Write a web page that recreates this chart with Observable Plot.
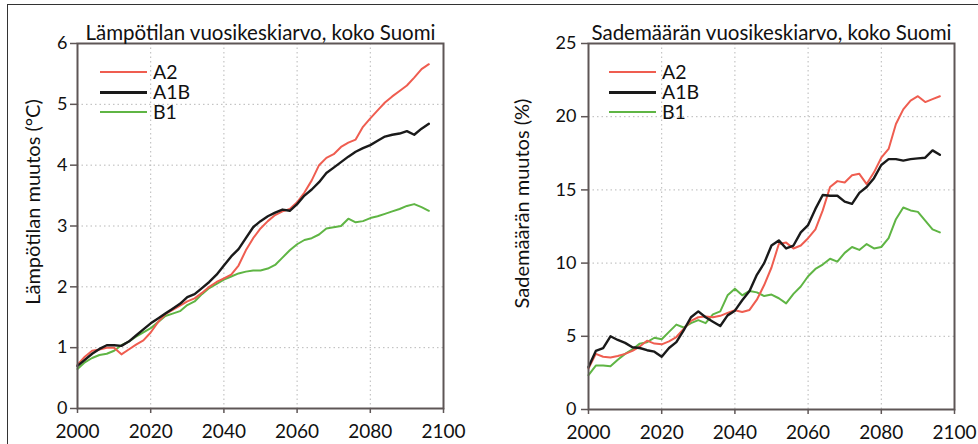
<!DOCTYPE html>
<html>
<head>
<meta charset="utf-8">
<script src="https://cdn.jsdelivr.net/npm/d3@7"></script>
<script src="https://cdn.jsdelivr.net/npm/@observablehq/plot@0.6"></script>
<style>
  html, body { margin: 0; padding: 0; background: #fff; }
  #wrap { position: relative; width: 978px; height: 444px; overflow: hidden; font-family: Lato, "Open Sans", sans-serif; }
  #border { position: absolute; left: 7px; top: 4px; width: 980px; height: 450px; border-left: 1.5px solid #333; border-top: 1.5px solid #333; }
  .panel { position: absolute; top: 0; }
  .legend { position: absolute; width: 110px; height: 62px; }
  .legend .sw { position: absolute; left: 0; width: 47px; height: 2px; }
  .legend .lb { position: absolute; left: 53px; top: 0; font-size: 19.5px; line-height: 20px; white-space: pre; color: #111; }
</style>
</head>
<body>
<div id="wrap"><div id="border"></div></div>
<script>
const years = [2000,2002,2004,2006,2008,2010,2012,2014,2016,2018,2020,2022,2024,2026,2028,2030,2032,2034,2036,2038,2040,2042,2044,2046,2048,2050,2052,2054,2056,2058,2060,2062,2064,2066,2068,2070,2072,2074,2076,2078,2080,2082,2084,2086,2088,2090,2092,2094,2096];

const seriesNames = ["A2", "A1B", "B1"];
const seriesColors = ["#ef5d50", "#1a1a1a", "#5fb544"];

// Temperature change (°C)
const tempA2  = [0.72,0.85,0.95,0.97,1.00,1.00,0.89,0.97,1.05,1.12,1.25,1.42,1.55,1.62,1.69,1.76,1.81,1.90,2.00,2.08,2.14,2.20,2.35,2.60,2.80,2.96,3.08,3.18,3.24,3.28,3.39,3.55,3.75,4.00,4.12,4.18,4.30,4.37,4.42,4.63,4.77,4.90,5.03,5.13,5.22,5.31,5.44,5.58,5.66];
const tempA1B = [0.70,0.80,0.90,0.98,1.04,1.04,1.03,1.10,1.20,1.30,1.40,1.48,1.56,1.64,1.72,1.83,1.88,1.98,2.08,2.20,2.35,2.50,2.62,2.80,2.98,3.08,3.16,3.22,3.27,3.25,3.36,3.50,3.60,3.72,3.87,3.96,4.05,4.14,4.22,4.28,4.33,4.40,4.47,4.50,4.52,4.56,4.50,4.60,4.68];
const tempB1  = [0.65,0.76,0.83,0.88,0.90,0.95,1.04,1.10,1.18,1.25,1.32,1.42,1.52,1.56,1.60,1.70,1.76,1.88,1.98,2.05,2.12,2.17,2.22,2.25,2.27,2.27,2.30,2.36,2.48,2.60,2.70,2.77,2.80,2.86,2.96,2.98,3.00,3.12,3.06,3.08,3.13,3.16,3.20,3.24,3.28,3.33,3.36,3.31,3.25];

// Precipitation change (%)
const precA2  = [2.8,3.8,3.6,3.55,3.65,3.8,4.0,4.3,4.7,4.5,4.45,4.65,4.95,5.5,6.05,6.3,6.35,6.3,6.4,6.6,6.78,6.66,6.8,7.5,8.5,9.7,11.3,11.4,11.0,11.2,11.7,12.3,13.6,15.2,15.6,15.5,16.0,16.1,15.4,16.2,17.2,17.8,19.5,20.5,21.1,21.4,21.0,21.2,21.4];
const precA1B = [2.9,4.0,4.2,5.0,4.75,4.55,4.25,4.2,4.05,3.95,3.6,4.2,4.6,5.4,6.3,6.7,6.3,6.0,5.7,6.43,6.75,7.46,8.1,9.2,10.0,11.2,11.55,11.0,11.2,12.1,12.6,13.7,14.65,14.6,14.6,14.2,14.05,14.8,15.2,15.8,16.7,17.1,17.1,17.0,17.1,17.15,17.2,17.7,17.4];
const precB1  = [2.35,3.0,3.0,2.95,3.4,3.8,4.1,4.5,4.6,4.9,4.8,5.3,5.8,5.6,5.9,6.1,5.9,6.5,6.7,7.8,8.25,7.8,8.1,8.0,7.75,7.85,7.6,7.25,7.9,8.4,9.1,9.6,9.9,10.3,10.1,10.7,11.1,10.9,11.3,11.0,11.1,11.7,13.0,13.8,13.6,13.5,12.9,12.3,12.1];

const xTicks = [2000,2020,2040,2060,2080,2100];
const tempTicks = [0,1,2,3,4,5,6];
const precTicks = [0,5,10,15,20,25];

const titles = ["Lämpötilan vuosikeskiarvo, koko Suomi", "Sademäärän vuosikeskiarvo, koko Suomi"];
const yLabels = ["Lämpötilan muutos (°C)", "Sademäärän muutos (%)"];

function rows(valuesList) {
  const out = [];
  seriesNames.forEach((name, i) => {
    years.forEach((yr, j) => out.push({year: yr, value: valuesList[i][j], series: name}));
  });
  return out;
}

function panel(opts) {
  const data = rows(opts.values);
  const drawOrder = ["B1", "A2", "A1B"];
  const lineMarks = drawOrder.map(name => Plot.line(data.filter(d => d.series === name), {
    x: "year", y: "value", stroke: seriesColors[seriesNames.indexOf(name)],
    strokeWidth: name === "A1B" ? 2.4 : 2, curve: "linear"
  }));
  const inner = opts.yTicks.slice(1, -1);
  return Plot.plot({
    width: 489, height: 444,
    marginLeft: opts.ml, marginRight: opts.mr, marginTop: 43, marginBottom: opts.mb,
    style: {fontFamily: "Lato, 'Open Sans', sans-serif", fontSize: "19px", color: "#111", background: "transparent", overflow: "visible"},
    x: {domain: [2000, 2100]},
    y: {domain: [opts.yTicks[0], opts.yTicks[opts.yTicks.length - 1]]},
    marks: [
      Plot.gridX(xTicks.slice(1, -1), {stroke: "#b8b8b8", strokeOpacity: 1, strokeDasharray: "1.5,3"}),
      Plot.gridY(inner, {stroke: "#b8b8b8", strokeOpacity: 1, strokeDasharray: "1.5,3"}),
      ...lineMarks,
      Plot.axisX(xTicks, {tickSize: 5, tickPadding: 11, fontSize: 19, tickFormat: d => String(d), label: null, stroke: "#5e5656", strokeWidth: 1.5}),
      Plot.axisY(opts.yTicks, {tickSize: 7, tickPadding: opts.tp, fontSize: 18, tickFormat: d => String(d), label: null, stroke: "#5e5656", strokeWidth: 1.5}),
      Plot.frame({stroke: "#5e5656", strokeWidth: 2}),
      Plot.text([opts.title], {frameAnchor: "top", dy: -18, fontSize: 20.5, fill: "#111"}),
      Plot.text([opts.ylabel], {frameAnchor: "left", textAnchor: "middle", rotate: -90, dx: opts.ldx, dy: opts.ldy, fontSize: 20, fill: "#111"})
    ]
  });
}

const wrap = document.getElementById("wrap");

function addPanel(left, svg, legendLeft) {
  const div = document.createElement("div");
  div.className = "panel";
  div.style.left = left + "px";
  div.appendChild(svg);
  wrap.appendChild(div);
  const lg = document.createElement("div");
  lg.className = "legend";
  lg.style.left = legendLeft + "px";
  lg.style.top = "62px";
  seriesNames.forEach((name, i) => {
    const sw = document.createElement("span");
    sw.className = "sw";
    sw.style.top = (9 + 20 * i) + "px";
    sw.style.background = seriesColors[i];
    if (name === "A1B") { sw.style.height = "2.5px"; }
    lg.appendChild(sw);
  });
  const lb = document.createElement("div");
  lb.className = "lb";
  lb.textContent = seriesNames.join("\n");
  lg.appendChild(lb);
  wrap.appendChild(lg);
}

addPanel(0, panel({values: [tempA2, tempA1B, tempB1], yTicks: tempTicks, ml: 77, mr: 46, mb: 36, tp: 3, title: titles[0], ylabel: yLabels[0], ldx: -44, ldy: -24}), 100);
addPanel(489, panel({values: [precA2, precA1B, precB1], yTicks: precTicks, ml: 99, mr: 24, mb: 35, tp: 5, title: titles[1], ylabel: yLabels[1], ldx: -66, ldy: -23}), 609);
</script>
</body>
</html>
